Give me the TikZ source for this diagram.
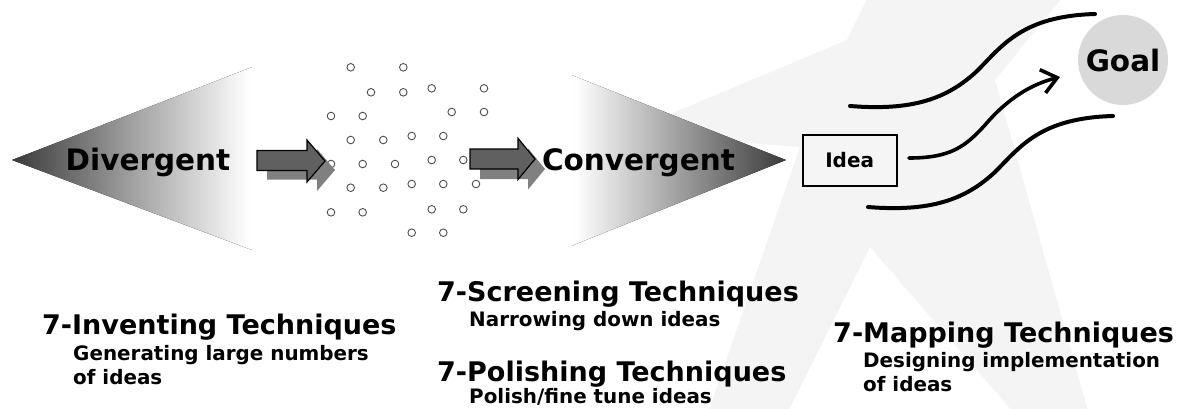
\documentclass[tikz,border=0pt]{standalone}
\usepackage{fontspec}
\setmainfont{DejaVu Sans}
\usetikzlibrary{arrows.meta}
\definecolor{starc}{RGB}{244,244,244}
\definecolor{tipdark}{RGB}{58,58,58}
\definecolor{midg}{RGB}{158,158,158}
\definecolor{arrfill}{RGB}{96,96,96}
\definecolor{arrshadow}{RGB}{128,128,128}
\definecolor{goalc}{RGB}{217,217,217}
\definecolor{dotc}{RGB}{80,80,80}
\definecolor{ideac}{RGB}{245,245,245}
\pgfdeclarehorizontalshading{divsh}{100bp}{color(0bp)=(tipdark); color(25bp)=(tipdark); color(44bp)=(midg); color(63.6bp)=(white); color(100bp)=(white)}
\pgfdeclarehorizontalshading{convsh}{100bp}{color(0bp)=(white); color(32bp)=(white); color(53.5bp)=(midg); color(75bp)=(tipdark); color(100bp)=(tipdark)}
\begin{document}
\begin{tikzpicture}[x=1pt,y=-1pt,
  title/.style={anchor=base west,inner sep=0,font=\bfseries\fontsize{27}{30}\selectfont},
  sub/.style={anchor=base west,inner sep=0,font=\bfseries\fontsize{19.9}{24}\selectfont},
  big/.style={anchor=base,inner sep=0,font=\bfseries\fontsize{29.5}{34}\selectfont},
  dot/.style={circle,draw=dotc,fill=white,line width=0.9pt,inner sep=0,minimum size=7.6pt},
  flowline/.style={line width=4pt,line cap=round},
  mainarrow/.style={fill=arrfill,draw=black,line width=1.2pt,line join=miter},
  shadowarrow/.style={fill=arrshadow}
]
\useasboundingbox (0,0) rectangle (1177,408);
\fill[white] (0,0) rectangle (1177,408);
% background star
\begin{scope}
\clip (0,0) rectangle (1177,408);
\fill[starc] (625,133) -- (847,40) -- (880,-28) -- (1083,-28) -- (995,80) -- (1095,436)
  -- (1034,436) -- (870,247) -- (776,436) -- (700,436) -- (800,147) -- cycle;
\end{scope}
% divergent / convergent wedges
\fill[shading=divsh] (12,160) -- (320,40.8) -- (320,275.5) -- cycle;
\fill[white] (252,34) rectangle (326,282);
\fill[shading=convsh] (786,160) -- (540,62.6) -- (540,258.4) -- cycle;
\fill[white] (534,56) rectangle (572,265);
% ideas (small circles)
\foreach \x/\y [count=\i] in {350.7/67.3,403.3/67.3,371/92.3,403.3/92.3,431.7/88.3,484/88.3,
  331/116,362.7/116,451.7/112,484/112,350.7/140,383.3/140,411.7/136,443.3/136,
  331/164,362.7/164,395/164,431.7/160,463.3/160,350.7/187.7,383.3/187.7,411.7/184,443.3/184,476/184,
  331/212.3,362.7/212.3,431.7/209.3,463.3/209.3,411.7/232.7,443.3/232.7}
  \node[dot] (d\i) at (\x,\y) {};
% block arrows
\begin{scope}[shift={(10,9)}]
\fill[shadowarrow] (257,150.5) -- (307,150.5) -- (307,140) -- (325,161) -- (307,182) -- (307,170.5) -- (257,170.5) -- cycle;
\end{scope}
\draw[mainarrow] (257,150.5) -- (307,150.5) -- (307,140) -- (325,161) -- (307,182) -- (307,170.5) -- (257,170.5) -- cycle;
\begin{scope}[shift={(10,10)}]
\fill[shadowarrow] (470,149) -- (518,149) -- (518,138.3) -- (535,159) -- (518,179.5) -- (518,169) -- (470,169) -- cycle;
\end{scope}
\draw[mainarrow] (470,149) -- (518,149) -- (518,138.3) -- (535,159) -- (518,179.5) -- (518,169) -- (470,169) -- cycle;
% labels of the wedges
\node[big] (div) at (148,170.5) {Divergent};
\node[big] (conv) at (638.5,170.5) {Convergent};
% idea and goal
\node[draw=black,fill=ideac,line width=1.6pt,minimum width=94pt,minimum height=51pt,inner sep=0,
  font=\bfseries\fontsize{20}{24}\selectfont] (idea) at (849.7,160.5) {Idea};
\node[circle,fill=goalc,minimum size=90pt,inner sep=0,font=\bfseries\fontsize{29.5}{34}\selectfont] (goal) at (1123,60) {Goal};
% paths to goal
\coordinate (t0) at (850,106);
\coordinate (t1) at (1095,14);
\coordinate (m0) at (909,158);
\coordinate (m1) at (1060,77);
\coordinate (b0) at (868,207);
\coordinate (b1) at (1113,116);
\draw[flowline] (t0) .. controls (912,111) and (947,99) .. (977,71) .. controls (1002,46) and (1022,16) .. (t1);
\draw[flowline,line width=3.6pt,-{Straight Barb[length=15pt,width=24pt]}] (m0) .. controls (950,158) and (965,147) .. (985,125) .. controls (1008,98) and (1032,84) .. (m1);
\draw[flowline] (b0) .. controls (930,212) and (965,200) .. (995,172) .. controls (1020,147) and (1040,118) .. (b1);
% technique texts
\node[title] (invT) at (42,334) {7-Inventing Techniques};
\node[sub] (invS1) at (73,360) {Generating large numbers};
\node[sub] (invS2) at (73,384) {of ideas};
\node[title] (scrT) at (437,301) {7-Screening Techniques};
\node[sub] (scrS) at (469,326) {Narrowing down ideas};
\node[title] (polT) at (437,381) {7-Polishing Techniques};
\node[sub] (polS) at (469,403) {Polish/fine tune ideas};
\node[title] (mapT) at (833,342) {7-Mapping Techniques};
\node[sub] (mapS1) at (863,367) {Designing implementation};
\node[sub] (mapS2) at (863,391) {of ideas};
\end{tikzpicture}
\end{document}
